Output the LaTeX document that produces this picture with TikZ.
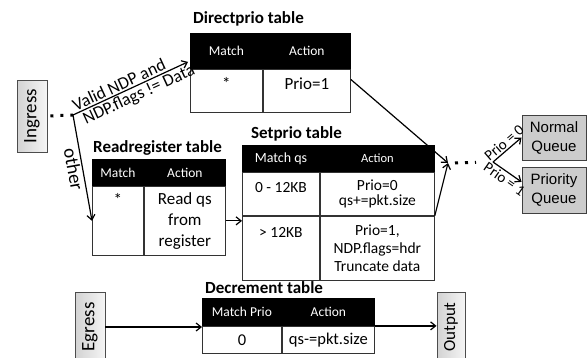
\documentclass[tikz,border=0pt]{standalone}
\usepackage{fontspec}
\setmainfont{Carlito}
\newfontfamily\arialfont{Liberation Sans}
\usetikzlibrary{calc,positioning,arrows.meta}

\tikzset{
  hdr/.style={draw=black, line width=0.9pt, fill=black, text=white, inner sep=0pt,
    font=\fontsize{13.5}{16}\selectfont},
  cell/.style={draw=black!80, line width=0.9pt, inner sep=0pt, align=center,
    font=\fontsize{17}{21}\selectfont},
  title/.style={inner sep=0pt, font=\bfseries\fontsize{17}{20}\selectfont},
  io/.style={draw=black!70, line width=0.9pt, left color=gray!35, right color=gray!8,
    inner sep=0pt, font=\fontsize{19}{22}\selectfont},
  queue/.style={draw=black!75, line width=0.9pt, fill=gray!40, inner sep=0pt,
    align=center, font=\arialfont\fontsize{15}{19}\selectfont},
  flow/.style={line width=1.2pt, -{Straight Barb[length=5pt,width=8pt]}},
  dotline/.style={line width=3pt, dash pattern=on 3pt off 7pt},
  lbl/.style={inner sep=1.5pt, font=\fontsize{17.5}{20}\selectfont}
}

\begin{document}
\begin{tikzpicture}[x=1pt,y=-1pt]
  \useasboundingbox (0,0) rectangle (587,357);
  \clip (0,0) rectangle (587,357);
  % In and out boxes
  \node[io, rotate=90, minimum width=72pt, minimum height=30pt] (ingress) at (32,116) {Ingress};
  \node[io, rotate=90, minimum width=70pt, minimum height=30pt] (egress) at (90,327) {Egress};
  \node[io, rotate=90, minimum width=70pt, minimum height=28pt,
    font=\fontsize{17}{20}\selectfont] (output) at (451,327) {Output};
  \node[queue, minimum width=64pt, minimum height=45pt] (normal) at (554,137.5) {Normal\\Queue};
  \node[queue, minimum width=64pt, minimum height=46pt] (prio) at (554,190) {Priority\\Queue};

  % Directprio table
  \node[title, anchor=base west] (dpT) at (193,23) {Directprio table};
  \node[hdr, minimum width=72pt, minimum height=35pt, anchor=north west] (dpM) at (190,33) {Match};
  \node[hdr, minimum width=87pt, minimum height=35pt, right=0pt of dpM] (dpA) {Action};
  \node[cell, minimum width=72pt, minimum height=43pt, text height=20pt, text depth=23pt,
    below=0pt of dpM] (dpMb) {*};
  \node[cell, minimum width=87pt, minimum height=43pt, text height=20pt, text depth=23pt,
    below=0pt of dpA] (dpAb) {Prio=1};

  % Readregister table
  \node[title, anchor=base west] (rrT) at (93,152) {Readregister table};
  \node[hdr, minimum width=51pt, minimum height=26pt, anchor=north west] (rrM) at (92,159) {Match};
  \node[hdr, minimum width=81pt, minimum height=26pt, right=0pt of rrM] (rrA) {Action};
  \node[cell, minimum width=51pt, minimum height=69pt, text height=19pt, text depth=50pt,
    below=0pt of rrM] (rrMb) {*};
  \node[cell, minimum width=81pt, minimum height=69pt, below=0pt of rrA] (rrAb) {Read qs\\from\\register};

  % Setprio table
  \node[title, anchor=base west] (spT) at (251,138) {Setprio table};
  \node[hdr, minimum width=77pt, minimum height=26pt, anchor=north west,
    font=\fontsize{14}{16}\selectfont] (spM) at (242,145) {Match qs};
  \node[hdr, minimum width=114pt, minimum height=26pt, right=0pt of spM,
    font=\fontsize{12.5}{15}\selectfont] (spA) {Action};
  \node[cell, minimum width=77pt, minimum height=43pt, text height=20pt, text depth=23pt,
    font=\fontsize{15.5}{18}\selectfont, below=0pt of spM] (spMb1) {0 - 12KB};
  \node[cell, minimum width=114pt, minimum height=43pt,
    font=\fontsize{15.5}{15}\selectfont, below=0pt of spA] (spAb1) {Prio=0\\qs+=pkt.size};
  \node[cell, minimum width=77pt, minimum height=64pt, text height=21pt, text depth=43pt,
    font=\fontsize{15.5}{18}\selectfont, below=0pt of spMb1] (spMb2) {> 12KB};
  \node[cell, minimum width=114pt, minimum height=64pt,
    font=\fontsize{15.5}{18}\selectfont, below=0pt of spAb1] (spAb2) {Prio=1,\\NDP.flags=hdr\\Truncate data};

  % Decrement table
  \node[title, anchor=base west] (dcT) at (205,293) {Decrement table};
  \node[hdr, minimum width=79pt, minimum height=27pt, anchor=north west] (dcM) at (202,298) {Match Prio};
  \node[hdr, minimum width=92pt, minimum height=27pt, right=0pt of dcM] (dcA) {Action};
  \node[cell, minimum width=79pt, minimum height=27pt, font=\fontsize{16.5}{19}\selectfont,
    below=0pt of dcM] (dcMb) {0};
  \node[cell, minimum width=92pt, minimum height=27pt, font=\fontsize{16.5}{19}\selectfont,
    below=0pt of dcA] (dcAb) {qs-=pkt.size};

  % Branch points
  \coordinate (split) at (73,115);
  \coordinate (merge) at (448,163);
  \coordinate (fork) at (493,162);

  % Connectors
  \draw[dotline, shorten <=3pt] (ingress.south) -- (split);
  \draw[flow] (split) -- ($(dpM.south west)+(-2,-7)$)
    node[lbl, pos=0.43, sloped, above] {Valid NDP and}
    node[lbl, pos=0.54, sloped, below] {NDP.flags != Data};
  \draw[flow] (split) -- (rrMb.west)
    node[lbl, midway, sloped, below, font=\fontsize{19}{22}\selectfont] {other};
  \draw[flow] (rrAb.east) -- (rrAb.east -| spMb2.west);
  \draw[flow] ($(dpAb.north east)!0.24!(dpAb.south east)$) -- (merge);
  \draw[flow] (spAb1.south east) -- (merge);
  \draw[dotline, shorten <=7pt, shorten >=17pt] (merge) -- (fork);
  \draw[flow] (fork) -- (normal.west)
    node[lbl, pos=0.55, sloped, above, font=\fontsize{15}{18}\selectfont] {Prio = 0};
  \draw[flow] (fork) -- (prio.166)
    node[lbl, pos=0.55, sloped, below, font=\fontsize{15}{18}\selectfont] {Prio = 1};
  \draw[flow] (egress.south) -- (egress.south -| dcM.west);
  \draw[flow] (dcA.south east) -- (dcA.south east -| output.north);
\end{tikzpicture}
\end{document}
